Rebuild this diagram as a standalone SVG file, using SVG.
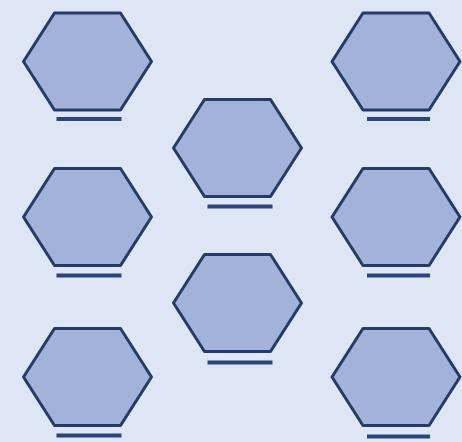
<svg xmlns="http://www.w3.org/2000/svg" width="462" height="442" viewBox="0 0 462 442">
<style>
.hex{fill:#a2b2d8;stroke:#233b69;stroke-width:3;stroke-linejoin:round}
.ul{stroke:#2a4577;stroke-width:4;fill:none}
</style>
<defs>
<polygon id="h" points="-64,0 -33,-48.5 33,-48.5 64,0 33,48.5 -33,48.5"/>
</defs>
<rect width="462" height="442" fill="#dee6f5"/>
<g id="hex-l1" transform="translate(87.5,61.5)"><use href="#h" class="hex"/><line class="ul" x1="-31" y1="57.5" x2="34" y2="57.5"/></g>
<g id="hex-l2" transform="translate(87.5,217)"><use href="#h" class="hex"/><line class="ul" x1="-31" y1="58.5" x2="34" y2="58.5"/></g>
<g id="hex-l3" transform="translate(87.5,377)"><use href="#h" class="hex"/><line class="ul" x1="-31" y1="58.5" x2="34" y2="58.5"/></g>
<g id="hex-m1" transform="translate(237.5,148)"><use href="#h" class="hex"/><line class="ul" x1="-30" y1="58.5" x2="35" y2="58.5"/></g>
<g id="hex-m2" transform="translate(237.5,303)"><use href="#h" class="hex"/><line class="ul" x1="-30" y1="59.5" x2="35" y2="59.5"/></g>
<g id="hex-r1" transform="translate(396,61.5)"><use href="#h" class="hex"/><line class="ul" x1="-29" y1="57.5" x2="34" y2="57.5"/></g>
<g id="hex-r2" transform="translate(396,217)"><use href="#h" class="hex"/><line class="ul" x1="-29" y1="58.5" x2="34" y2="58.5"/></g>
<g id="hex-r3" transform="translate(396,377)"><use href="#h" class="hex"/><line class="ul" x1="-29" y1="59.5" x2="34" y2="59.5"/></g>
<g id="connectors"/>
</svg>
